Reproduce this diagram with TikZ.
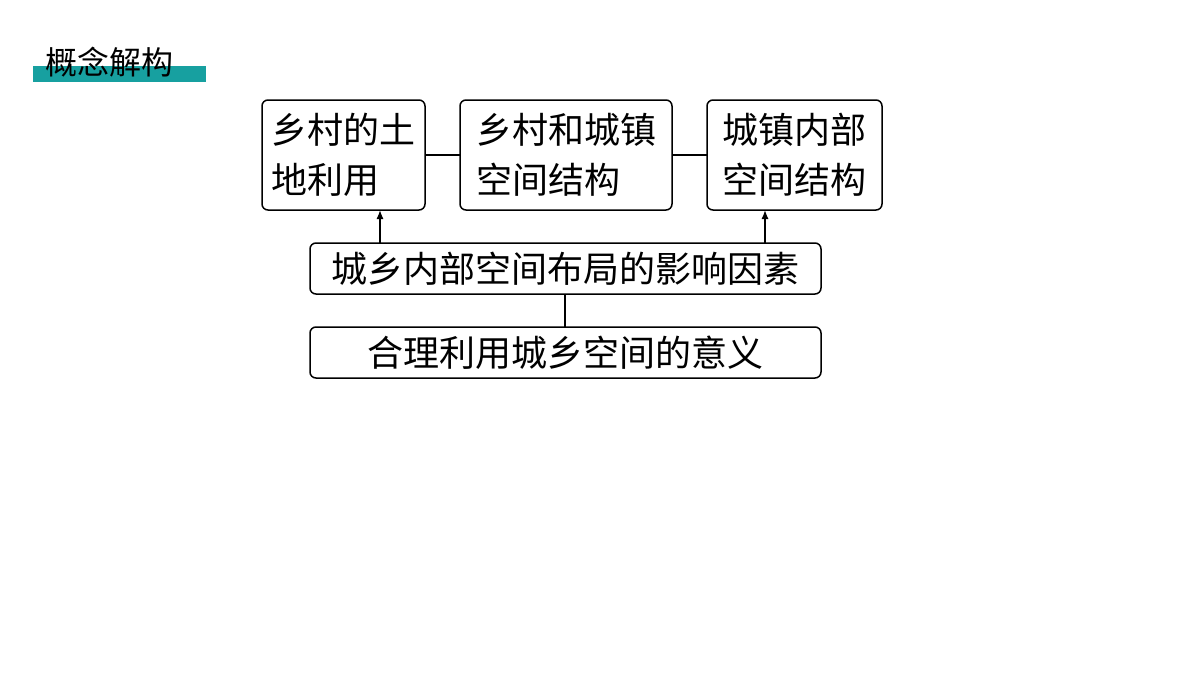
\documentclass[tikz,border=0pt]{standalone}
\usepackage{fontspec}
\setmainfont{Noto Sans CJK SC}
\begin{document}
\begin{tikzpicture}[x=1pt,y=-1pt,
 box/.style={draw,line width=1.5pt,rounded corners=6pt,inner sep=0pt},
 txt/.style={font=\fontsize{36}{50}\selectfont,align=left,inner sep=0pt},
 con/.style={line width=1.3pt},
 arr/.style={con,-{Latex[length=9pt,width=7pt]}}]
\usetikzlibrary{arrows.meta}
\useasboundingbox (0,0) rectangle (1200,675);
\fill[fill={rgb,255:red,23;green,160;blue,160}] (33,66) rectangle (206,82);
\node[anchor=west,inner sep=0pt,font=\fontsize{32}{32}\selectfont] (h) at (45,62) {概念解构};
\draw[box] (262,100) rectangle (425,210); \node (b1) [txt] at (343.5,155) {乡村的土\\地利用};
\draw[box] (460,100) rectangle (672,210); \node (b2) [txt] at (566,155) {乡村和城镇\\空间结构};
\draw[box] (707,100) rectangle (882,210); \node (b3) [txt] at (794.5,155) {城镇内部\\空间结构};
\draw[box] (310,243) rectangle (821,294); \node (b4) [txt] at (565.5,268.5) {城乡内部空间布局的影响因素};
\draw[box] (310,327) rectangle (821,378); \node (b5) [txt] at (565.5,352.5) {合理利用城乡空间的意义};
\coordinate (l1) at (425,155); \coordinate (l2) at (460,155);
\coordinate (l3) at (672,155); \coordinate (l4) at (707,155);
\draw[con] (l1) -- (l2); \draw[con] (l3) -- (l4);
\coordinate (a1) at (380,243); \coordinate (a2) at (380,210);
\coordinate (a3) at (765,243); \coordinate (a4) at (765,210);
\draw[arr] (a1) -- (a2); \draw[arr] (a3) -- (a4);
\coordinate (c1) at (565,294); \coordinate (c2) at (565,327);
\draw[con] (c1) -- (c2);
\end{tikzpicture}
\end{document}
